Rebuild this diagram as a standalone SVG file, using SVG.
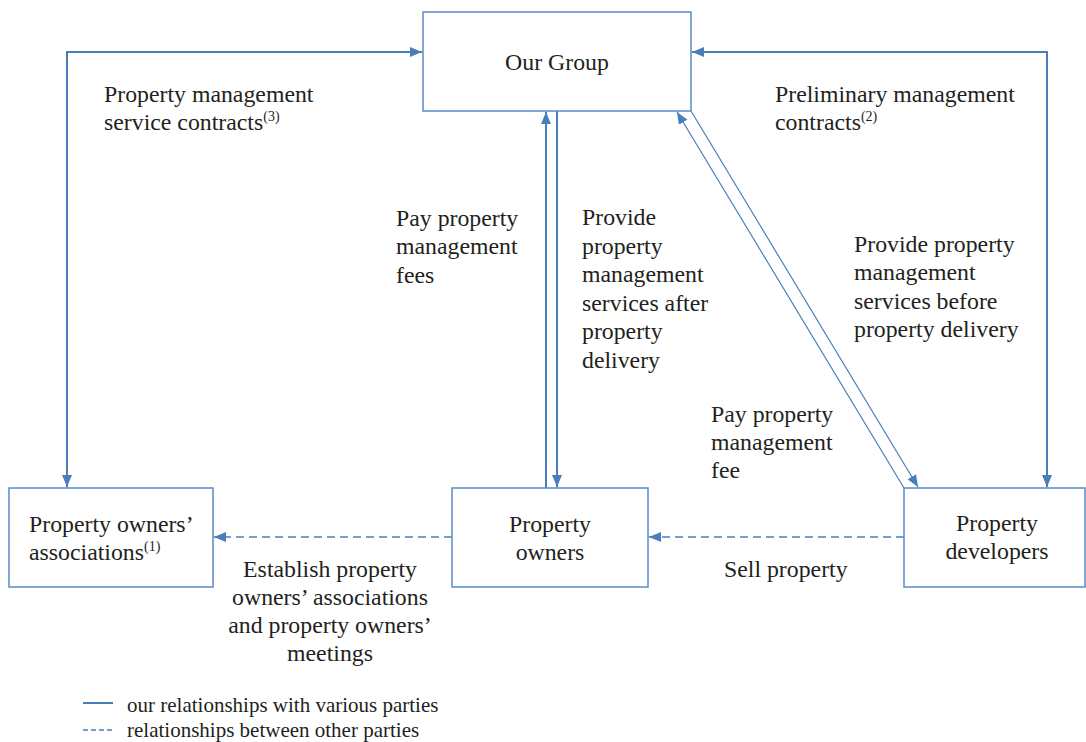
<svg xmlns="http://www.w3.org/2000/svg" width="1086" height="742" viewBox="0 0 1086 742">
  <style>
    .box { fill: #ffffff; stroke: #5b8bc8; stroke-width: 1.5; }
    .lbl { font-family: "Liberation Serif", "Times New Roman", serif; font-size: 23.8px; fill: #231f20; }
    .sup { font-size: 14px; }
    .leg { font-family: "Liberation Serif", "Times New Roman", serif; font-size: 21px; fill: #231f20; }
    .solid { fill: none; stroke: #4a7ebb; stroke-width: 2; }
    .thin { fill: none; stroke: #4a7ebb; stroke-width: 1.2; }
    .dash { fill: none; stroke: #4a7ebb; stroke-width: 1.5; stroke-dasharray: 8 5; }
  </style>
  <defs>
    <marker id="arr" markerUnits="userSpaceOnUse" markerWidth="13" markerHeight="11" refX="12" refY="5" orient="auto-start-reverse" viewBox="0 0 13 10">
      <path d="M0,0 L12,5 L0,10 z" fill="#4a7ebb"/>
    </marker>
  </defs>

  <rect width="1086" height="742" fill="#ffffff"/>

  <!-- connectors -->
  <g id="connectors">
    <path class="solid" d="M67,487 L67,52 L422,52" marker-start="url(#arr)" marker-end="url(#arr)"/>
    <path class="solid" d="M1047,487 L1047,52 L692,52" marker-start="url(#arr)" marker-end="url(#arr)"/>
    <path class="solid" d="M546,488 L546,112" marker-end="url(#arr)"/>
    <path class="solid" d="M557,111 L557,487" marker-end="url(#arr)"/>
    <path class="thin" d="M904,488 L677,112" marker-end="url(#arr)"/>
    <path class="thin" d="M691,111 L918,487" marker-end="url(#arr)"/>
    <path class="dash" d="M452,537 L214,537" marker-end="url(#arr)"/>
    <path class="dash" d="M904,537 L649,537" marker-end="url(#arr)"/>
  </g>

  <!-- nodes -->
  <g id="our-group">
    <rect class="box" x="423" y="12" width="268" height="99"/>
    <text class="lbl" x="557" y="70" text-anchor="middle">Our Group</text>
  </g>
  <g id="owners-associations">
    <rect class="box" x="9" y="488" width="204" height="99"/>
    <text class="lbl" x="29" y="532">Property owners’</text>
    <text class="lbl" x="29" y="560">associations<tspan class="sup" dy="-9">(1)</tspan></text>
  </g>
  <g id="property-owners">
    <rect class="box" x="452" y="488" width="196" height="99"/>
    <text class="lbl" x="550" y="532" text-anchor="middle">Property</text>
    <text class="lbl" x="550" y="560" text-anchor="middle">owners</text>
  </g>
  <g id="property-developers">
    <rect class="box" x="904" y="488" width="181" height="99"/>
    <text class="lbl" x="997" y="531" text-anchor="middle">Property</text>
    <text class="lbl" x="997" y="559" text-anchor="middle">developers</text>
  </g>

  <!-- connector labels -->
  <g id="labels">
    <text class="lbl" x="104" y="102">Property management</text>
    <text class="lbl" x="104" y="130">service contracts<tspan class="sup" dy="-9">(3)</tspan></text>

    <text class="lbl" x="775" y="102">Preliminary management</text>
    <text class="lbl" x="775" y="130">contracts<tspan class="sup" dy="-9">(2)</tspan></text>

    <text class="lbl" x="396" y="226">Pay property</text>
    <text class="lbl" x="396" y="254">management</text>
    <text class="lbl" x="396" y="283">fees</text>

    <text class="lbl" x="582" y="225">Provide</text>
    <text class="lbl" x="582" y="254">property</text>
    <text class="lbl" x="582" y="282">management</text>
    <text class="lbl" x="582" y="311">services after</text>
    <text class="lbl" x="582" y="339">property</text>
    <text class="lbl" x="582" y="368">delivery</text>

    <text class="lbl" x="854" y="252">Provide property</text>
    <text class="lbl" x="854" y="280">management</text>
    <text class="lbl" x="854" y="309">services before</text>
    <text class="lbl" x="854" y="337">property delivery</text>

    <text class="lbl" x="711" y="422">Pay property</text>
    <text class="lbl" x="711" y="450">management</text>
    <text class="lbl" x="711" y="478">fee</text>

    <text class="lbl" x="330" y="577" text-anchor="middle">Establish property</text>
    <text class="lbl" x="330" y="605" text-anchor="middle">owners’ associations</text>
    <text class="lbl" x="330" y="633" text-anchor="middle">and property owners’</text>
    <text class="lbl" x="330" y="661" text-anchor="middle">meetings</text>

    <text class="lbl" x="724" y="577">Sell property</text>
  </g>

  <!-- legend -->
  <g id="legend">
    <line class="solid" x1="83" y1="703" x2="113" y2="703"/>
    <text class="leg" x="127" y="712">our relationships with various parties</text>
    <line class="dash" x1="83" y1="730" x2="113" y2="730" style="stroke-dasharray:5 3"/>
    <text class="leg" x="127" y="737">relationships between other parties</text>
  </g>
</svg>
